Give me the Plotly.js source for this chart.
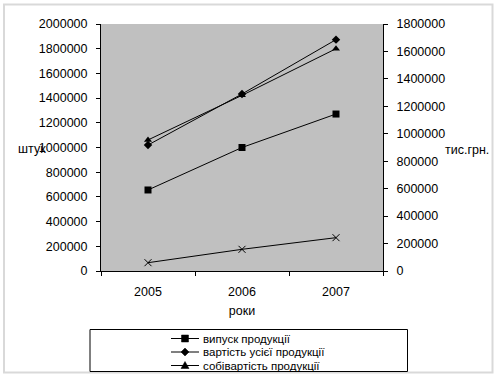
<!DOCTYPE html>
<html>
<head>
<meta charset="utf-8">
<script src="https://cdn.plot.ly/plotly-3.0.1.min.js"></script>
<style>html,body{margin:0;padding:0;background:#fff;}#chart{width:500px;height:380px;}</style>
</head>
<body>
<div id="chart"></div>
<script>
// ---- data ----
var years = ['2005', '2006', '2007'];
var seriesNames = ['випуск продукції', 'вартість усієї продукції', 'собівартість продукції'];
var output = [656000, 1000000, 1271000];        // штук (left axis)
var totalValue = [918000, 1290000, 1686000];    // тис.грн. (right axis)
var costPrice = [955000, 1280000, 1620000];     // тис.грн. (right axis)
var series4 = [60500, 158000, 243000];          // тис.грн. (right axis, legend entry hidden)
var leftTicks = [0, 200000, 400000, 600000, 800000, 1000000, 1200000, 1400000, 1600000, 1800000, 2000000];
var rightTicks = [0, 200000, 400000, 600000, 800000, 1000000, 1200000, 1400000, 1600000, 1800000];
var xTitle = 'роки', leftTitle = 'штук', rightTitle = 'тис.грн.';

// ---- layout geometry ----
var W = 500, H = 380, ML = 101, MR = 117, MT = 24, MB = 109;
var PW = W - ML - MR, PH = H - MT - MB;
function px(x) { return (x - ML) / PW; }
function py(y) { return (H - MB - y) / PH; }
var FONT = 'Liberation Sans, Arial, sans-serif';
var lineStyle = {color: '#000', width: 1};

var traces = [
  {x: years, y: output, name: seriesNames[0], mode: 'lines+markers', yaxis: 'y',
   line: lineStyle, marker: {symbol: 'square', size: 7, color: '#000'}},
  {x: years, y: totalValue, name: seriesNames[1], mode: 'lines+markers', yaxis: 'y2',
   line: lineStyle, marker: {symbol: 'diamond', size: 6.5, color: '#000'}},
  {x: years, y: costPrice, name: seriesNames[2], mode: 'lines+markers', yaxis: 'y2',
   line: lineStyle, marker: {symbol: 'triangle-up', size: 7, color: '#000'}},
  {x: years, y: series4, name: '', mode: 'lines+markers', yaxis: 'y2', showlegend: false,
   line: lineStyle, marker: {symbol: 'x-thin', size: 7, color: '#000', line: {color: '#000', width: 1}}}
];

// custom legend (box clipped like the original)
var rowsY = [338.5, 352, 365.5];
var symX = 185, lx0 = 171, lx1 = 199;
var shapes = [
  // outer frame
  {type: 'rect', xref: 'paper', yref: 'paper', x0: px(4), x1: px(492.5), y0: py(372.5), y1: py(4.5),
   line: {color: '#d9d9d9', width: 2}, fillcolor: 'rgba(0,0,0,0)'},
  // legend box
  {type: 'rect', xref: 'paper', yref: 'paper', x0: px(90), x1: px(407.5), y0: py(371.5), y1: py(329.5),
   line: {color: '#000', width: 1}, fillcolor: '#fff'}
];
var annotations = [
  {xref: 'paper', yref: 'paper', x: px(16), y: py(149), xanchor: 'left', yanchor: 'middle', showarrow: false,
   text: leftTitle, font: {family: FONT, size: 12.5, color: '#000'}},
  {xref: 'paper', yref: 'paper', x: px(443), y: py(149.5), xanchor: 'left', yanchor: 'middle', showarrow: false,
   text: rightTitle, font: {family: FONT, size: 12.5, color: '#000'}}
];
function P(x, y) { return px(x) + ',' + py(y); }
rowsY.forEach(function (ry, i) {
  shapes.push({type: 'line', xref: 'paper', yref: 'paper', x0: px(lx0), x1: px(lx1), y0: py(ry), y1: py(ry), line: lineStyle});
  var path;
  if (i === 0) {
    path = 'M' + P(symX - 3.5, ry - 3.5) + 'L' + P(symX + 3.5, ry - 3.5) + 'L' + P(symX + 3.5, ry + 3.5) + 'L' + P(symX - 3.5, ry + 3.5) + 'Z';
  } else if (i === 1) {
    path = 'M' + P(symX, ry - 4) + 'L' + P(symX + 4, ry) + 'L' + P(symX, ry + 4) + 'L' + P(symX - 4, ry) + 'Z';
  } else {
    path = 'M' + P(symX, ry - 4) + 'L' + P(symX + 4, ry + 3) + 'L' + P(symX - 4, ry + 3) + 'Z';
  }
  shapes.push({type: 'path', xref: 'paper', yref: 'paper', path: path, fillcolor: '#000', line: {color: '#000', width: 0.5}});
  annotations.push({xref: 'paper', yref: 'paper', x: px(201), y: py(ry), xanchor: 'left', yanchor: 'middle',
    showarrow: false, text: seriesNames[i], font: {family: FONT, size: 11.5, color: '#000'}});
});

var axisFont = {family: FONT, size: 12.5, color: '#000'};
var layout = {
  width: W, height: H,
  margin: {l: ML, r: MR, t: MT, b: MB, pad: 0},
  paper_bgcolor: '#fff', plot_bgcolor: '#c0c0c0',
  showlegend: false,
  font: {family: FONT, size: 12.5, color: '#000'},
  xaxis: {type: 'category', range: [-0.5, 2.5], showline: true, linecolor: '#000', linewidth: 1, showgrid: false, zeroline: false,
    ticks: 'outside', ticklen: 4, tickcolor: '#000', tickson: 'boundaries', tickfont: axisFont,
    ticklabelstandoff: 9, title: {text: xTitle, font: axisFont, standoff: 8}},
  yaxis: {range: [0, 2000000], tickvals: leftTicks, ticktext: leftTicks.map(String), showline: true, linecolor: '#000',
    linewidth: 1, showgrid: false, zeroline: false, ticks: 'outside', ticklen: 4, tickcolor: '#000',
    tickfont: axisFont, ticklabelstandoff: 6},
  yaxis2: {range: [0, 1800000], tickvals: rightTicks, ticktext: rightTicks.map(String), overlaying: 'y', side: 'right',
    showline: true, linecolor: '#000', linewidth: 1, showgrid: false, zeroline: false, ticks: 'outside', ticklen: 4,
    tickcolor: '#000', tickfont: axisFont, ticklabelstandoff: 6},
  shapes: shapes,
  annotations: annotations
};
Plotly.newPlot('chart', traces, layout, {displayModeBar: false, staticPlot: true});
</script>
</body>
</html>
